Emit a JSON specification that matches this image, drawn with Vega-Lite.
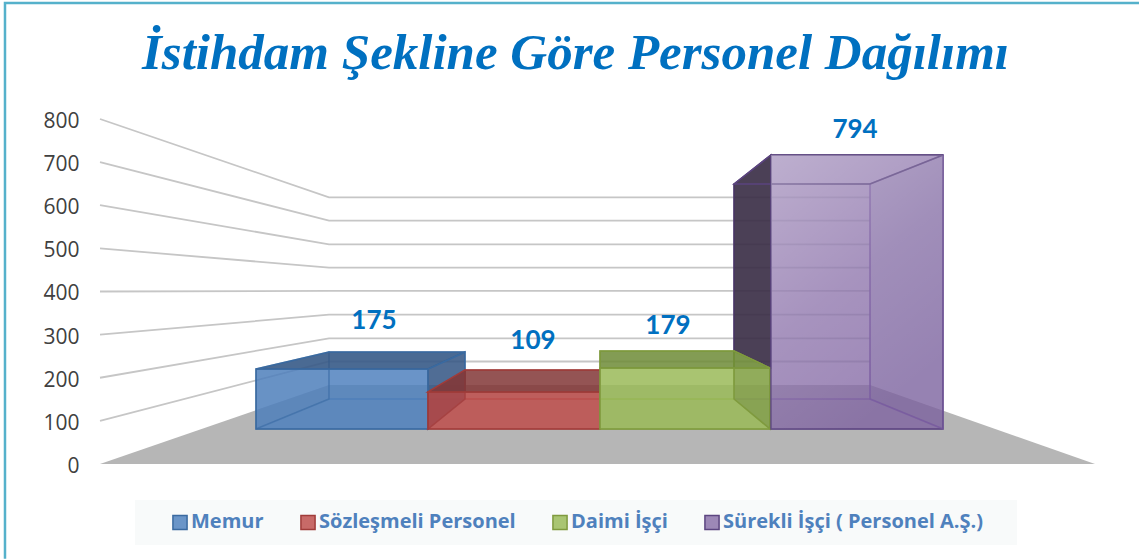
{
"$schema":"https://vega.github.io/schema/vega-lite/v6.json",
"width":1139,"height":559,"padding":0,"autosize":{"type":"none"},"background":"white",
"config":{"view":{"stroke":null}},
"title":{"text":"İstihdam Şekline Göre Personel Dağılımı","font":"Liberation Serif","fontStyle":"italic","fontWeight":"bold","fontSize":51,"color":"#0070c0","anchor":"middle","frame":"group","baseline":"alphabetic","offset":-122,"dx":6},
"datasets":{
"frame":[{"x":-1.4636,"y":-220},{"x":-1.4636,"y":1069},{"x":5.1487,"y":1069}],
"grid":[
{"tick":800,"x":-0.9096,"y":800},{"tick":800,"x":0.4257,"y":618.4},{"tick":800,"x":3.5802,"y":618.4},
{"tick":700,"x":-0.9096,"y":700},{"tick":700,"x":0.4257,"y":564.2},{"tick":700,"x":3.5802,"y":564.2},
{"tick":600,"x":-0.9096,"y":600},{"tick":600,"x":0.4257,"y":509.4},{"tick":600,"x":3.5802,"y":509.4},
{"tick":500,"x":-0.9096,"y":500},{"tick":500,"x":0.4257,"y":455.2},{"tick":500,"x":3.5802,"y":455.2},
{"tick":400,"x":-0.9096,"y":400},{"tick":400,"x":0.4257,"y":401.2},{"tick":400,"x":3.5802,"y":401.2},
{"tick":300,"x":-0.9096,"y":300},{"tick":300,"x":0.4257,"y":346.2},{"tick":300,"x":3.5802,"y":346.2},
{"tick":200,"x":-0.9096,"y":200},{"tick":200,"x":0.4257,"y":291.5},{"tick":200,"x":3.5802,"y":291.5},
{"tick":100,"x":-0.9096,"y":100},{"tick":100,"x":0.4257,"y":237.7},{"tick":100,"x":3.5802,"y":237.7}
],
"floor":[{"x":-0.9096,"y":0,"y2":0},{"x":0.4257,"y":183.2,"y2":0},{"x":3.5802,"y":183.2,"y2":0},{"x":4.8921,"y":0,"y2":0}],
"legendbox":[{"x":-0.7056,"y":-83.5,"y2":-187.8},{"x":4.437,"y":-83.5,"y2":-187.8}],
"faces":[
{"face":"Memur arka","x":0.4257,"y":259.7,"y2":150.7},{"face":"Memur arka","x":1.2187,"y":259.7,"y2":150.7},
{"face":"Memur taban","x":0,"y":81.2,"y2":81.2},{"face":"Memur taban","x":0.4257,"y":150.7,"y2":81.2},{"face":"Memur taban","x":1.0029,"y":150.7,"y2":81.2},{"face":"Memur taban","x":1.2187,"y":150.7,"y2":150.7},
{"face":"Memur","x":0,"y":220.3,"y2":81.2},{"face":"Memur","x":1.0029,"y":220.3,"y2":81.2},
{"face":"Memur sol","x":0,"y":220.3,"y2":81.2},{"face":"Memur sol","x":0.4257,"y":259.7,"y2":150.7},
{"face":"Memur sağ","x":1.0029,"y":220.3,"y2":81.2},{"face":"Memur sağ","x":1.2187,"y":259.7,"y2":150.7},
{"face":"Memur üst","x":0,"y":220.3,"y2":220.3},{"face":"Memur üst","x":0.4257,"y":259.7,"y2":220.3},{"face":"Memur üst","x":1.0029,"y":259.7,"y2":220.3},{"face":"Memur üst","x":1.2187,"y":259.7,"y2":259.7},

{"face":"Sözleşmeli arka","x":1.2187,"y":218,"y2":150.7},{"face":"Sözleşmeli arka","x":2.0058,"y":218,"y2":150.7},
{"face":"Sözleşmeli taban","x":1.0029,"y":81.2,"y2":81.2},{"face":"Sözleşmeli taban","x":1.2187,"y":150.7,"y2":81.2},{"face":"Sözleşmeli taban","x":2.0058,"y":150.7,"y2":81.2},
{"face":"Sözleşmeli Personel","x":1.0029,"y":167,"y2":81.2},{"face":"Sözleşmeli Personel","x":2.0058,"y":167,"y2":81.2},
{"face":"Sözleşmeli sol","x":1.0029,"y":167,"y2":81.2},{"face":"Sözleşmeli sol","x":1.2187,"y":218,"y2":150.7},
{"face":"Sözleşmeli üst","x":1.0029,"y":167,"y2":167},{"face":"Sözleşmeli üst","x":1.2187,"y":218,"y2":167},{"face":"Sözleşmeli üst","x":2.0058,"y":218,"y2":167},

{"face":"Sürekli arka","x":2.7872,"y":649.3,"y2":150.7},{"face":"Sürekli arka","x":3.5802,"y":649.3,"y2":150.7},
{"face":"Sürekli taban","x":2.7872,"y":150.7,"y2":150.7},{"face":"Sürekli taban","x":3.0029,"y":150.7,"y2":81.2},{"face":"Sürekli taban","x":3.5802,"y":150.7,"y2":81.2},{"face":"Sürekli taban","x":4.0058,"y":81.2,"y2":81.2},
{"face":"Sürekli sol","x":2.7872,"y":649.3,"y2":262},{"face":"Sürekli sol","x":3.0029,"y":716.5,"y2":222.6},

{"face":"Daimi arka","x":2.0058,"y":262,"y2":150.7},{"face":"Daimi arka","x":2.7872,"y":262,"y2":150.7},
{"face":"Daimi taban","x":2.0058,"y":150.7,"y2":81.2},{"face":"Daimi taban","x":2.7872,"y":150.7,"y2":81.2},{"face":"Daimi taban","x":2.9971,"y":81.2,"y2":81.2},
{"face":"Daimi İşçi","x":2.0058,"y":222.6,"y2":81.2},{"face":"Daimi İşçi","x":2.9971,"y":222.6,"y2":81.2},
{"face":"Daimi sağ","x":2.7872,"y":262,"y2":150.7},{"face":"Daimi sağ","x":2.9971,"y":222.6,"y2":81.2},
{"face":"Daimi üst","x":2.0058,"y":262,"y2":222.6},{"face":"Daimi üst","x":2.7872,"y":262,"y2":222.6},{"face":"Daimi üst","x":2.9971,"y":222.6,"y2":222.6},

{"face":"Sürekli İşçi ( Personel A.Ş.)","x":3.0029,"y":716.5,"y2":81.2},{"face":"Sürekli İşçi ( Personel A.Ş.)","x":4.0058,"y":716.5,"y2":81.2},
{"face":"Sürekli sağ","x":3.5802,"y":649.3,"y2":150.7},{"face":"Sürekli sağ","x":4.0058,"y":716.5,"y2":81.2},
{"face":"Sürekli üst","x":2.7872,"y":649.3,"y2":649.3},{"face":"Sürekli üst","x":3.0029,"y":716.5,"y2":649.3},{"face":"Sürekli üst","x":3.5802,"y":716.5,"y2":649.3},{"face":"Sürekli üst","x":4.0058,"y":716.5,"y2":716.5}
],
"glow":[{"x":3.0029,"y":716.5,"y2":81.2},{"x":4.0058,"y":716.5,"y2":81.2}],
"labels":[
{"seri":"Memur","deger":175,"x":0.688,"y":331.5},
{"seri":"Sözleşmeli Personel","deger":109,"x":1.615,"y":285},
{"seri":"Daimi İşçi","deger":179,"x":2.402,"y":320},
{"seri":"Sürekli İşçi ( Personel A.Ş.)","deger":794,"x":3.493,"y":774.5}
]
},
"encoding":{
"x":{"field":"x","type":"quantitative","axis":null,"scale":{"domain":[-1.4927,5.1487],"nice":false,"zero":false}},
"y":{"field":"y","type":"quantitative","scale":{"domain":[-220.3,1075.9],"nice":false,"zero":false},
"axis":{"values":[0,100,200,300,400,500,600,700,800],"title":null,"grid":false,"domain":false,"ticks":false,"offset":-79,"labelPadding":0,"labelOffset":2.5,"labelFont":"Open Sans","labelFontSize":21,"labelColor":"#404040"}}
},
"layer":[
{"data":{"name":"legendbox"},"mark":{"type":"area","orient":"vertical","fill":"#f8fafa"},"encoding":{"y2":{"field":"y2"}}},
{"data":{"name":"frame"},"mark":{"type":"line","stroke":"#55b1cb","strokeWidth":2.5,"clip":false},"encoding":{"order":{"field":"row"}}},
{"data":{"name":"grid"},"mark":{"type":"line","stroke":"#c6c6c6","strokeWidth":1.8},"encoding":{"detail":{"field":"tick"}}},
{"data":{"name":"floor"},"mark":{"type":"area","orient":"vertical","fill":"#b6b6b6"},"encoding":{"y2":{"field":"y2"}}},
{"data":{"name":"faces"},"mark":{"type":"area","orient":"vertical","strokeWidth":1.5},
"encoding":{
"y2":{"field":"y2"},
"color":{"field":"face","type":"nominal","scale":{
"domain":["Memur","Sözleşmeli Personel","Daimi İşçi","Sürekli İşçi ( Personel A.Ş.)","Memur arka","Memur taban","Memur sol","Memur sağ","Memur üst","Sözleşmeli arka","Sözleşmeli taban","Sözleşmeli sol","Sözleşmeli üst","Daimi arka","Daimi taban","Daimi sağ","Daimi üst","Sürekli arka","Sürekli taban","Sürekli sol","Sürekli sağ","Sürekli üst"],
"range":["rgba(79,129,189,0.84)","rgba(192,80,77,0.85)","rgba(155,187,89,0.85)","rgba(128,100,162,0.76)","rgba(79,129,189,0.05)","rgba(60,100,150,0.12)","rgba(60,100,150,0.05)","rgba(50,85,130,0.85)","rgba(55,90,135,0.9)","rgba(110,40,40,0.05)","rgba(130,50,50,0.1)","rgba(150,50,50,0.25)","rgba(130,55,55,0.85)","rgba(100,130,50,0.05)","rgba(100,130,50,0.1)","rgba(90,115,40,0.3)","rgba(110,140,55,0.85)","rgba(128,100,162,0.05)","rgba(90,60,130,0.12)","rgba(60,48,72,0.92)","rgba(90,70,130,0.1)","rgba(128,100,162,0)"]
},
"legend":{"values":["Memur","Sözleşmeli Personel","Daimi İşçi","Sürekli İşçi ( Personel A.Ş.)"],"title":null,"orient":"none","legendX":170,"legendY":512,"direction":"horizontal","columns":4,"columnPadding":33,"padding":0,"symbolType":"square","symbolSize":200,"symbolOpacity":1,"labelFont":"Open Sans","labelFontWeight":"bold","labelFontSize":20,"labelLimit":400,"labelColor":"#4f81bd","labelOffset":1,
"encoding":{"symbols":{"update":{"stroke":{"scale":"stroke","field":"value"},"strokeWidth":{"value":2.2}}}}}},
"stroke":{"field":"face","type":"nominal","scale":{
"domain":["Memur","Sözleşmeli Personel","Daimi İşçi","Sürekli İşçi ( Personel A.Ş.)","Memur arka","Memur taban","Memur sol","Memur sağ","Memur üst","Sözleşmeli arka","Sözleşmeli taban","Sözleşmeli sol","Sözleşmeli üst","Daimi arka","Daimi taban","Daimi sağ","Daimi üst","Sürekli arka","Sürekli taban","Sürekli sol","Sürekli sağ","Sürekli üst"],
"range":["#3a6aa0","#a03c3a","#7f9a3e","#5c4580","rgba(58,106,160,0.5)","rgba(58,106,160,0.5)","rgba(58,106,160,0.5)","#3a6aa0","#3a6aa0","rgba(160,60,58,0.6)","rgba(160,60,58,0.5)","rgba(160,60,58,0.6)","#a03c3a","rgba(127,154,62,0.7)","rgba(127,154,62,0.7)","#7f9a3e","#7f9a3e","rgba(120,90,160,0.6)","rgba(120,90,160,0.6)","#4a3766","rgba(120,90,160,0.7)","#5c4580"]
},"legend":null}
}},
{"data":{"name":"glow"},"mark":{"type":"area","orient":"vertical","color":{"gradient":"linear","x1":0,"y1":0,"x2":0.5,"y2":1,"stops":[{"offset":0,"color":"rgba(255,255,255,0.32)"},{"offset":0.55,"color":"rgba(255,255,255,0.1)"},{"offset":1,"color":"rgba(255,255,255,0)"}]}},"encoding":{"y2":{"field":"y2"}}},
{"data":{"name":"labels"},"mark":{"type":"text","font":"Lato","fontWeight":"bold","fontSize":26,"color":"#0070c0","align":"center","baseline":"middle"},"encoding":{"text":{"field":"deger","type":"quantitative"}}}
]
}
